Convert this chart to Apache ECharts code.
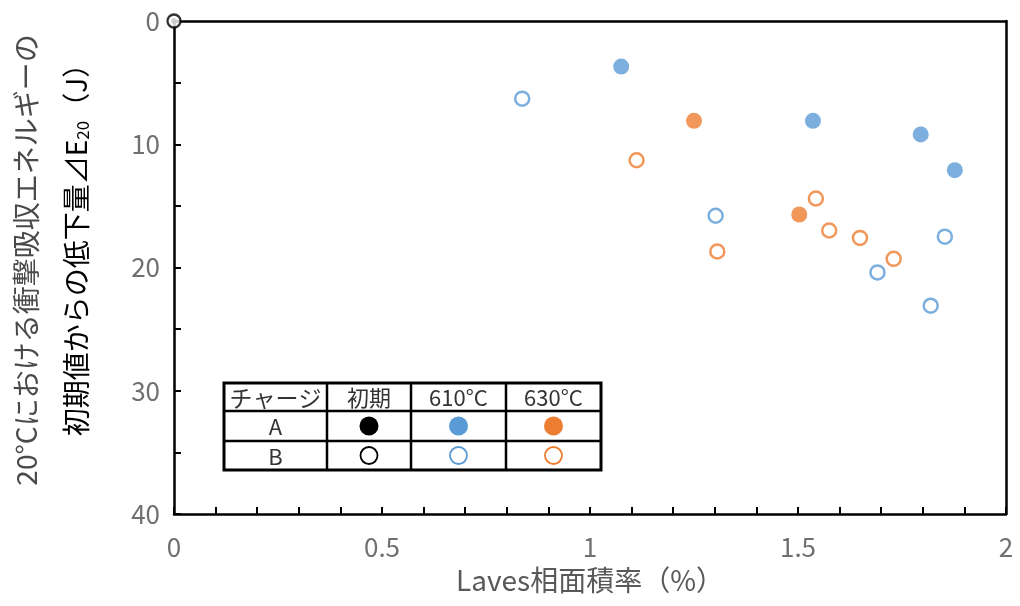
<!DOCTYPE html>
<html>
<head>
<meta charset="utf-8">
<script src="https://cdn.jsdelivr.net/npm/echarts@6/dist/echarts.min.js"></script>
<style>
  html, body { margin: 0; padding: 0; background: #ffffff; }
  #chart { width: 1020px; height: 606px; }
</style>
</head>
<body>
<div id="chart"></div>
<script>
// Laves phase area fraction (%) vs. drop in 20°C absorbed energy ΔE20 (J)
const xTicks = [0, 0.5, 1, 1.5, 2];
const yTicks = [0, 10, 20, 30, 40];

// initial state (both charges sit at the origin)
const initA = [[0, 0]];
const initB = [[0, 0]];

// aged at 610°C
const a610 = [[1.075, 3.7], [1.536, 8.1], [1.795, 9.2], [1.877, 12.1]];
const b610 = [[0.837, 6.3], [1.302, 15.8], [1.853, 17.5], [1.691, 20.4], [1.819, 23.1]];

// aged at 630°C
const a630 = [[1.250, 8.1], [1.503, 15.7]];
const b630 = [[1.112, 11.3], [1.306, 18.7], [1.543, 14.4], [1.575, 17.0], [1.649, 17.6], [1.730, 19.3]];

// legend table text
const tableHeader = ['チャージ', '初期', '610°C', '630°C'];
const tableRows = ['A', 'B'];

const BLUE = '#5B9BD5';
const ORANGE = '#ED7D31';
const BLACK = '#000000';
const LABEL = '#707070';
const FONT = '"Noto Sans CJK JP", "Noto Sans", sans-serif';

const chart = echarts.init(document.getElementById('chart'), null, { renderer: 'canvas' });

function filled(name, data, color, size, z) {
  return {
    name, type: 'scatter', data, symbol: 'circle', symbolSize: size || 16,
    itemStyle: { color: color, borderWidth: 0 }, z: z || 5, clip: false,
    emphasis: { disabled: true }
  };
}
function hollow(name, data, color, size, z) {
  return {
    name, type: 'scatter', data, symbol: 'circle', symbolSize: size || 14,
    itemStyle: { color: '#ffffff', borderColor: color, borderWidth: 2.5 }, z: z || 6, clip: false,
    emphasis: { disabled: true }
  };
}

// legend table geometry
const T = { left: 224, right: 601, top: 383, r1: 411, r2: 441, bottom: 470, cols: [224, 327, 411, 506, 601] };
const colC = [0, 1, 2, 3].map(i => (T.cols[i] + T.cols[i + 1]) / 2);
const rowC = [(T.top + T.r1) / 2, (T.r1 + T.r2) / 2, (T.r2 + T.bottom) / 2];

const tableGraphics = [];
tableGraphics.push({
  type: 'rect', shape: { x: T.left, y: T.top, width: T.right - T.left, height: T.bottom - T.top },
  style: { fill: '#ffffff', stroke: '#000', lineWidth: 3 }, z: 20
});
[T.r1, T.r2].forEach(y => tableGraphics.push({
  type: 'line', shape: { x1: T.left, y1: y, x2: T.right, y2: y },
  style: { stroke: '#000', lineWidth: 2.5 }, z: 21
}));
T.cols.slice(1, 4).forEach(x => tableGraphics.push({
  type: 'line', shape: { x1: x, y1: T.top, x2: x, y2: T.bottom },
  style: { stroke: '#000', lineWidth: 2.5 }, z: 21
}));
tableHeader.forEach((t, i) => tableGraphics.push({
  type: 'text', x: colC[i], y: rowC[0] + 1,
  style: { text: t, fill: '#333333', font: (i === 0 ? '23px ' : '22px ') + FONT, align: 'center', verticalAlign: 'middle' },
  z: 22
}));
tableRows.forEach((t, r) => tableGraphics.push({
  type: 'text', x: colC[0], y: rowC[r + 1] + 1,
  style: { text: t, fill: '#333333', font: '22px ' + FONT, align: 'center', verticalAlign: 'middle' },
  z: 22
}));
[BLACK, BLUE, ORANGE].forEach((c, i) => {
  tableGraphics.push({
    type: 'circle', shape: { cx: colC[i + 1], cy: rowC[1], r: 9.5 },
    style: { fill: c }, z: 22
  });
  tableGraphics.push({
    type: 'circle', shape: { cx: colC[i + 1], cy: rowC[2], r: 8.5 },
    style: { fill: '#fff', stroke: c, lineWidth: 1.8 }, z: 22
  });
});

// two-line rotated y-axis title
const yTitle = [
  {
    type: 'text', x: 26, y: 260, rotation: Math.PI / 2,
    style: { text: '20°Cにおける衝撃吸収エネルギーの', fill: '#4a4a4a', font: '28px ' + FONT, align: 'center', verticalAlign: 'middle' }
  },
  {
    type: 'text', x: 76, y: 243, rotation: Math.PI / 2,
    style: {
      text: '{m|初期値からの低下量⊿E}{s|20}{m|（J）}',
      align: 'center', verticalAlign: 'middle',
      rich: {
        m: { color: '#595959', fontSize: 28, fontFamily: FONT },
        s: { color: '#595959', fontSize: 17, fontFamily: FONT, padding: [14, 0, 0, 0] }
      }
    }
  }
];

chart.setOption({
  animation: false,
  backgroundColor: '#ffffff',
  grid: { left: 174, right: 14, top: 21, bottom: 92, containLabel: false },
  xAxis: [
    {
      type: 'value', min: xTicks[0], max: xTicks[xTicks.length - 1], interval: 0.5,
      position: 'bottom',
      axisLine: { show: true, onZero: false, lineStyle: { color: '#000', width: 2.5 } },
      axisTick: { show: true, inside: true, length: 7, lineStyle: { color: '#000', width: 2 } },
      minorTick: { show: true, splitNumber: 5, length: 7, lineStyle: { color: '#000', width: 2 } },
      splitLine: { show: false },
      axisLabel: { color: LABEL, fontSize: 26, fontFamily: FONT, margin: 20, formatter: v => String(v) },
      name: 'Laves相面積率（%）', nameLocation: 'middle', nameGap: 52,
      nameTextStyle: { color: '#595959', fontSize: 28, fontFamily: FONT }
    },
    {
      type: 'value', min: 0, max: 2, position: 'top',
      axisLine: { show: true, onZero: false, lineStyle: { color: '#000', width: 2.5 } },
      axisTick: { show: false }, axisLabel: { show: false }, splitLine: { show: false }
    }
  ],
  yAxis: [
    {
      type: 'value', inverse: true, min: yTicks[0], max: yTicks[yTicks.length - 1], interval: 10,
      position: 'left',
      axisLine: { show: true, onZero: false, lineStyle: { color: '#000', width: 2.5 } },
      axisTick: { show: true, inside: true, length: 7, lineStyle: { color: '#000', width: 2 } },
      minorTick: { show: true, splitNumber: 2, length: 7, lineStyle: { color: '#000', width: 2 } },
      splitLine: { show: false },
      axisLabel: { color: LABEL, fontSize: 26, fontFamily: FONT, margin: 14 }
    },
    {
      type: 'value', inverse: true, min: 0, max: 40, position: 'right',
      axisLine: { show: true, onZero: false, lineStyle: { color: '#000', width: 2.5 } },
      axisTick: { show: false }, axisLabel: { show: false }, splitLine: { show: false }
    }
  ],
  series: [
    filled('A 初期', initA, BLACK, 6, 5),
    filled('A 610°C', a610, BLUE),
    hollow('B 610°C', b610, BLUE),
    filled('A 630°C', a630, ORANGE),
    hollow('B 630°C', b630, ORANGE),
    {
      name: 'B 初期', type: 'scatter', data: initB, symbol: 'circle', symbolSize: 13,
      itemStyle: { color: '#ffffff', borderColor: BLACK, borderWidth: 2.3 },
      z: 30, zlevel: 1, clip: false, emphasis: { disabled: true }
    }
  ],
  graphic: tableGraphics.concat(yTitle)
});
</script>
</body>
</html>
